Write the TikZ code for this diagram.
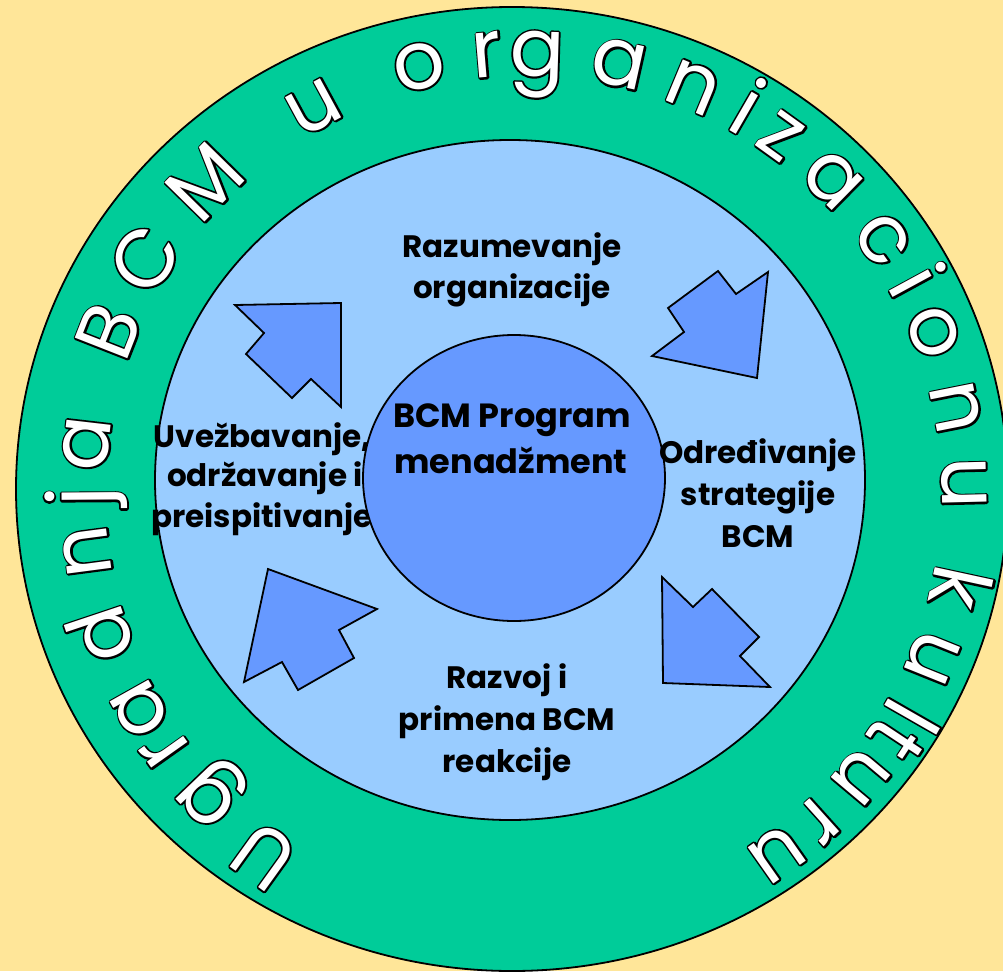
\documentclass[tikz,border=0pt]{standalone}
\usepackage{fontspec}
\setmainfont{Poppins}
\newfontfamily\ringfont{Poppins}
\definecolor{bgyellow}{HTML}{FFE699}
\definecolor{ringgreen}{HTML}{00CC99}
\definecolor{innerblue}{HTML}{99CCFF}
\definecolor{coreblue}{HTML}{6699FF}
\newcommand\ringtxt[1]{\rlap{\special{pdf:literal direct 0 G 3.6 w 1 j 1 Tr}#1\special{pdf:literal direct 0 Tr}}\textcolor{white}{#1}}
\begin{document}
\begin{tikzpicture}[x=1pt,y=1pt,
  ringletter/.style={font=\ringfont\fontsize{81}{81}\selectfont, inner sep=0pt, anchor=base},
  lbl/.style={font=\bfseries\fontsize{31}{41}\selectfont, inner sep=0pt, anchor=base},
  bcmlbl/.style={lbl, font=\bfseries\fontsize{33.5}{44}\selectfont},
  outline/.style={draw=black, line width=1.8pt},
  blockarrow/.style={fill=coreblue, outline, line join=miter}]
\useasboundingbox (0,0) rectangle (1003,-971);
\fill[bgyellow] (0,0) rectangle (1003,-971);
\begin{scope}
  \clip (0,0) rectangle (1003,-971);
  \filldraw[fill=ringgreen, outline] (512,-489) ellipse [x radius=496, y radius=482];
\end{scope}
\filldraw[fill=innerblue, outline] (510,-480) ellipse [x radius=355, y radius=340];
% ring text
\coordinate (RC) at (524,-494);
\foreach \a/\c [count=\i] in {234.3/U, 223.8/g, 215.3/r, 209.3/a, 198.5/d, 187.5/n, 180.4/j, 173.4/a,
  158.6/B, 148.2/C, 135.6/M, 118.5/u,
  103.8/o, 94.8/r, 88.3/g, 77.5/a, 67.4/n, 60.0/i, 54.3/z, 45.5/a, 35.3/c, 28.5/i, 21.6/o, 11.3/n, 1.4/u,
  -12.2/k, -21.9/u, -29.8/l, -33.5/t, -40.0/u, -48.0/r, -54.9/u}
  \node[ringletter, rotate=\a-90] (ring\i) at ([shift={(\a:418)}]RC) {\ringtxt{\c}};
% block arrows
\filldraw[blockarrow] (235,-305) -- (341,-303) -- (341,-407) -- (311,-379) -- (292,-398) -- (246,-354) -- (264,-333) -- cycle;
\filldraw[blockarrow] (718,-271) -- (736,-294) -- (768,-272) -- (757,-378) -- (652,-356) -- (684,-332) -- (668,-308) -- cycle;
\filldraw[blockarrow] (662,-577) -- (693,-607) -- (712,-589) -- (759,-637) -- (740,-656) -- (770,-687) -- (663,-683) -- cycle;
\filldraw[blockarrow] (268,-569) -- (377,-609) -- (339,-630) -- (354,-658) -- (298,-690) -- (282,-662) -- (244,-682) -- cycle;
% labels
\node[lbl] (raz1) at (512,-257) {Razumevanje};
\node[lbl] (raz2) at (512,-298) {organizacije};
\node[lbl] (uve1) at (262,-447) {Uvežbavanje,};
\node[lbl] (uve2) at (265,-486) {održavanje i};
\node[lbl] (uve3) at (262,-527) {preispitivanje};
\filldraw[fill=coreblue, outline] (514,-478) ellipse [x radius=151, y radius=143];
\node[bcmlbl] (bcm1) at (512,-427) {BCM Program};
\node[bcmlbl] (bcm2) at (511,-473) {menadžment};
\node[lbl] (odr1) at (758,-463) {Određivanje};
\node[lbl] (odr2) at (758,-505) {strategije};
\node[lbl] (odr3) at (758,-547) {BCM};
\node[lbl] (rzv1) at (507,-688) {Razvoj i};
\node[lbl] (rzv2) at (507,-730) {primena BCM};
\node[lbl] (rzv3) at (507,-772) {reakcije};
\end{tikzpicture}
\end{document}
